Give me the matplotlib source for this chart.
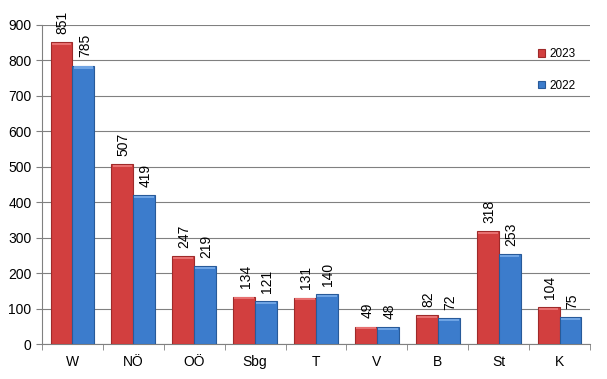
import matplotlib
matplotlib.use("Agg")
import matplotlib.pyplot as plt
import numpy as np

plt.rcParams['font.family'] = ['Liberation Sans', 'DejaVu Sans']

# data
regions = ["W", "NÖ", "OÖ", "Sbg", "T", "V", "B", "St", "K"]
vals_2023 = [851, 507, 247, 134, 131, 49, 82, 318, 104]
vals_2022 = [785, 419, 219, 121, 140, 48, 72, 253, 75]

fig = plt.figure(figsize=(6.07, 3.79), dpi=100)
ax = fig.add_axes([42/607, 1-344/379, (590-42)/607, (344-25)/379])

x = np.arange(len(regions))
w = 0.36
red = "#d23f3f"
blue = "#3c7ccc"

b1 = ax.bar(x - w/2, vals_2023, w, color=red, edgecolor="#9e2a2a", linewidth=0.8, label="2023", zorder=3)
b2 = ax.bar(x + w/2, vals_2022, w, color=blue, edgecolor="#285a99", linewidth=0.8, label="2022", zorder=3)

# light top cap to hint at the bevelled look
ax.bar(x - w/2, [6]*len(x), w*0.9, bottom=np.array(vals_2023)-8, color="#e87070", linewidth=0, zorder=4)
ax.bar(x + w/2, [6]*len(x), w*0.9, bottom=np.array(vals_2022)-8, color="#6fa4e4", linewidth=0, zorder=4)

for bars in (b1, b2):
    for rect in bars:
        h = rect.get_height()
        ax.annotate(str(int(h)), (rect.get_x() + rect.get_width()/2, h),
                    xytext=(1, 6), textcoords="offset points",
                    rotation=90, ha="center", va="bottom", fontsize=10, zorder=5)

ax.set_xlim(-0.5, len(regions) - 0.5)
ax.set_ylim(0, 900)
ax.set_yticks(range(0, 901, 100))
ax.tick_params(axis="y", labelsize=10, length=4, color="#808080")
ax.set_xticks(x)
ax.set_xticklabels(regions, fontsize=10)
ax.tick_params(axis="x", length=0, pad=8)
ax.set_xticks(np.arange(-0.5, len(regions), 1), minor=True)
ax.tick_params(axis="x", which="minor", length=4, color="#808080")

ax.yaxis.grid(True, color="#808080", linewidth=0.8, zorder=0)
ax.set_axisbelow(True)
for s in ["top", "right"]:
    ax.spines[s].set_visible(False)
for s in ["left", "bottom"]:
    ax.spines[s].set_color("#808080")

ax.legend(loc="upper left", bbox_to_anchor=(0.885, 0.96), frameon=False,
          fontsize=8.5, handlelength=0.6, handleheight=0.6, handletextpad=0.4,
          labelspacing=1.65)

fig.savefig("out.png", dpi=100)
